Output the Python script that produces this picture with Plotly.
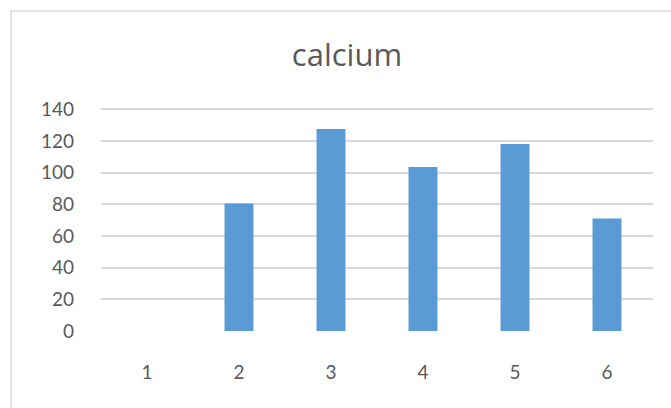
import plotly.graph_objects as go

# data
categories = ["1", "2", "3", "4", "5", "6"]
calcium = [0, 80.5, 127.5, 103.5, 118, 71]
y_ticks = [0, 20, 40, 60, 80, 100, 120, 140]

W, H = 671, 408
L, R, T, B = 101, 18, 106, 77
pw, ph = W - L - R, H - T - B


def px_x(p):
    return (p - L) / pw


def px_y(p):
    return (H - B - p) / ph


fig = go.Figure()
fig.add_trace(go.Bar(
    x=categories, y=calcium,
    marker=dict(color="#5b9bd5", line=dict(width=0)),
))

# outer chart frame (runs off the right and bottom edges like the reference)
fig.add_shape(type="rect", xref="paper", yref="paper",
              x0=px_x(11), x1=px_x(700), y0=px_y(430), y1=px_y(11),
              line=dict(color="#d9d9d9", width=1.5), layer="below")

fig.update_layout(
    width=W, height=H,
    margin=dict(l=L, r=R, t=T, b=B),
    paper_bgcolor="white", plot_bgcolor="white",
    showlegend=False,
    bargap=0.685,
    font=dict(family="Lato", color="#595959", size=19),
    title=dict(text="calcium", x=px_x(347), xref="paper", xanchor="center",
               y=(H - 55) / H, yanchor="middle",
               font=dict(family="Open Sans", size=31, color="#595959")),
)
fig.update_xaxes(showgrid=False, showline=False, ticks="",
                 ticklabelstandoff=28, tickfont=dict(size=19))
fig.update_yaxes(range=[0, 142], tickvals=y_ticks, showgrid=True,
                 gridcolor="#d9d9d9", gridwidth=1.5, zeroline=False,
                 showline=False, ticks="", ticklabelstandoff=26,
                 tickfont=dict(size=19))

# page margin off so the figure sits at the top-left corner of the window
fig.write_html("out.html", config={"displayModeBar": False},
               post_script="document.body.style.margin='0';document.body.style.overflow='hidden';")
